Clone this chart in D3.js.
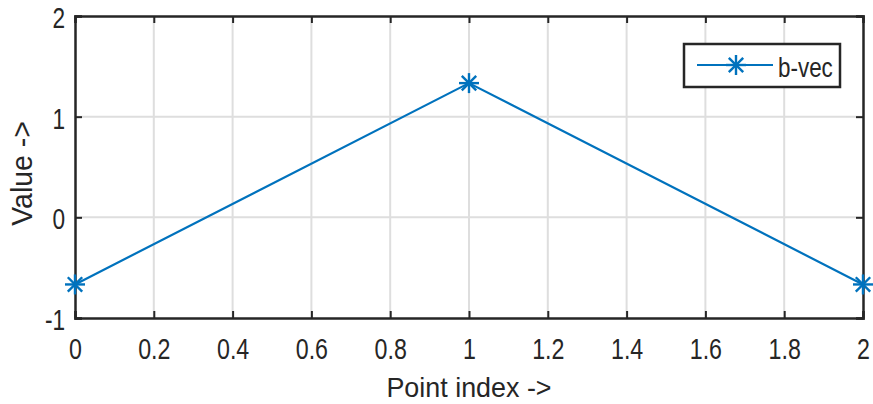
<!DOCTYPE html>
<html>
<head>
<meta charset="utf-8">
<script src="https://cdn.jsdelivr.net/npm/d3@7"></script>
<style>
  html, body { margin: 0; padding: 0; background: #fff; }
  svg { display: block; font-family: "Liberation Sans", Arial, sans-serif; }
</style>
</head>
<body>
<svg id="chart" width="873" height="404"></svg>
<script>
// b-vec sample values at each point index
const pointIndex = [0, 1, 2];
const bVec = [-2 / 3, 4 / 3, -2 / 3];
const xTicks = [0, 0.2, 0.4, 0.6, 0.8, 1, 1.2, 1.4, 1.6, 1.8, 2];
const yTicks = [-1, 0, 1, 2];
const seriesName = "b-vec";

const W = 873, H = 404;
const m = { left: 75, right: 10, top: 16, bottom: 86 };
const svg = d3.select("#chart");
const axisColor = "#262626";
const lineColor = "#0072BD";

const x = d3.scaleLinear().domain([0, 2]).range([m.left, W - m.right]);
const y = d3.scaleLinear().domain([-1, 2]).range([H - m.bottom, m.top]);

// narrow a text element horizontally by a factor
function narrow(sel, k) {
  sel.each(function () {
    const w = this.getComputedTextLength();
    d3.select(this).attr("textLength", w * k).attr("lengthAdjust", "spacingAndGlyphs");
  });
}

// grid
const grid = svg.append("g");
grid.selectAll("line.gx").data(xTicks.slice(1, -1)).join("line")
  .attr("x1", d => x(d)).attr("x2", d => x(d))
  .attr("y1", y(-1)).attr("y2", y(2))
  .attr("stroke", "#dedede").attr("stroke-width", 2);
grid.selectAll("line.gy").data(yTicks.slice(1, -1)).join("line")
  .attr("y1", d => y(d)).attr("y2", d => y(d))
  .attr("x1", x(0)).attr("x2", x(2))
  .attr("stroke", "#dedede").attr("stroke-width", 2);

// axes with inward ticks
const fmt = d => String(Math.round(d * 10) / 10);
const xAxis = d3.axisBottom(x).tickValues(xTicks).tickSize(-7).tickPadding(0).tickFormat(fmt);
const yAxis = d3.axisLeft(y).tickValues(yTicks).tickSize(-7).tickPadding(10).tickFormat(fmt);

const gx = svg.append("g").attr("transform", `translate(0,${y(-1)})`).call(xAxis);
const gy = svg.append("g").attr("transform", `translate(${x(0)},0)`).call(yAxis);
const gx2 = svg.append("g").attr("transform", `translate(0,${y(2)})`)
  .call(d3.axisTop(x).tickValues(xTicks).tickSize(-7).tickFormat(""));
const gy2 = svg.append("g").attr("transform", `translate(${x(2)},0)`)
  .call(d3.axisRight(y).tickValues(yTicks).tickSize(-7).tickFormat(""));

[gx, gy, gx2, gy2].forEach(g => {
  g.select(".domain").attr("stroke", axisColor).attr("stroke-width", 2.5);
  g.selectAll(".tick line").attr("stroke", axisColor).attr("stroke-width", 2);
  g.selectAll(".tick text").attr("fill", axisColor)
    .style("font-size", "29px").style("font-family", "Liberation Sans, Arial, sans-serif");
});
gx.selectAll(".tick text").attr("y", 41).attr("dy", null);
gy.selectAll(".tick text").attr("dy", null).attr("y", 11.5);
gx.selectAll(".tick text").call(narrow, 0.8);
gy.selectAll(".tick text").call(narrow, 0.78);

// axis labels
svg.append("text").attr("x", x(1)).attr("y", 397)
  .attr("text-anchor", "middle").attr("fill", axisColor)
  .style("font-size", "28px").text("Point index ->").call(narrow, 0.96);
svg.append("text")
  .attr("transform", "translate(32,173.5) rotate(-90)")
  .attr("text-anchor", "middle").attr("fill", axisColor)
  .style("font-size", "29px").text("Value ->").call(narrow, 0.98);

// series line
const pts = pointIndex.map((d, i) => [d, bVec[i]]);
svg.append("path").datum(pts)
  .attr("fill", "none").attr("stroke", lineColor).attr("stroke-width", 2.2)
  .attr("d", d3.line().x(d => x(d[0])).y(d => y(d[1])));

// asterisk markers
function asterisk(g, cx, cy, r) {
  const a = g.append("g").attr("transform", `translate(${cx},${cy})`)
    .attr("stroke", lineColor).attr("stroke-width", 2.4);
  a.append("line").attr("x1", 0).attr("x2", 0).attr("y1", -r).attr("y2", r);
  a.append("line").attr("x1", -r).attr("x2", r).attr("y1", 0).attr("y2", 0);
  const k = r * 0.72;
  a.append("line").attr("x1", -k).attr("x2", k).attr("y1", -k).attr("y2", k);
  a.append("line").attr("x1", -k).attr("x2", k).attr("y1", k).attr("y2", -k);
}
const markers = svg.append("g");
pts.forEach(d => asterisk(markers, x(d[0]), y(d[1]), 10));

// legend
const lg = svg.append("g");
lg.append("rect").attr("x", 684).attr("y", 44).attr("width", 156).attr("height", 43)
  .attr("fill", "#fff").attr("stroke", axisColor).attr("stroke-width", 2.5);
lg.append("line").attr("x1", 697).attr("x2", 773).attr("y1", 65).attr("y2", 65)
  .attr("stroke", lineColor).attr("stroke-width", 2.2);
asterisk(lg, 736, 65, 10);
lg.append("text").attr("x", 778).attr("y", 77).attr("fill", axisColor)
  .style("font-size", "27px").text(seriesName).call(narrow, 0.83);
</script>
</body>
</html>
